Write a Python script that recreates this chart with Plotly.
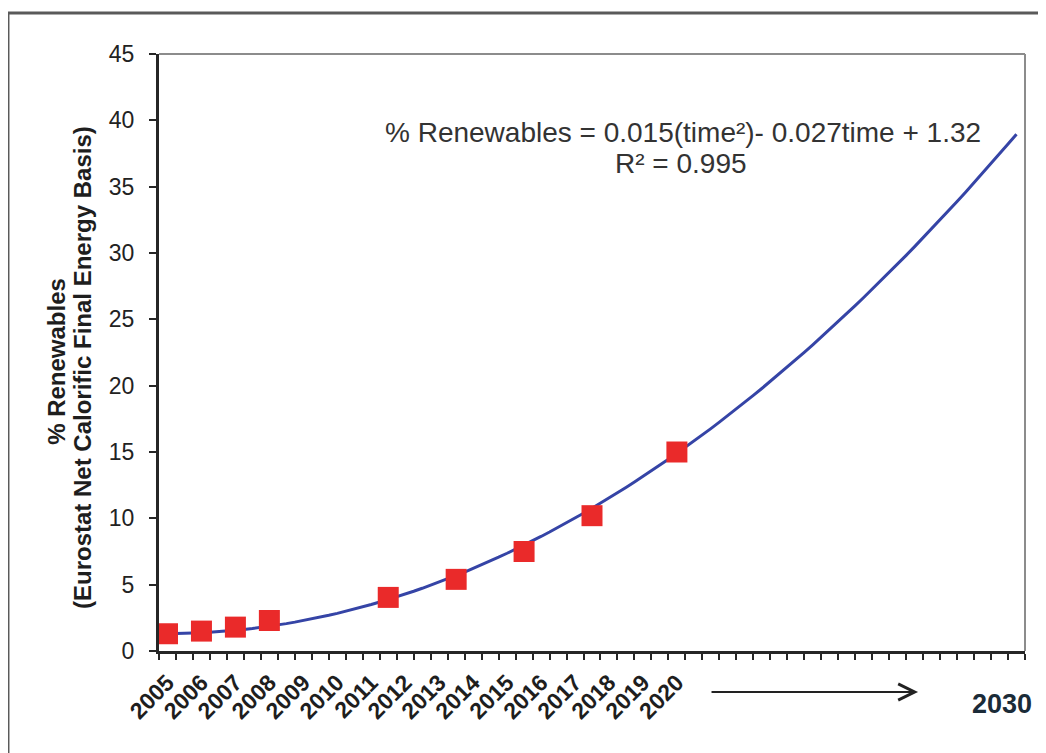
import numpy as np
import plotly.graph_objects as go

# ---- data ----
years = [2005, 2006, 2007, 2008, 2011.5, 2013.5, 2015.5, 2017.5, 2020]
renewables_pct = [1.3, 1.5, 1.8, 2.3, 4.04, 5.4, 7.5, 10.2, 15.0]
tick_years = list(range(2005, 2021))
tick_labels = [str(y) for y in tick_years]
trend_coeffs = [0.015, -0.027, 1.32]          # % = a*time^2 + b*time + c, time in half-years (2005 -> 1)
trend_start, trend_end = 2005, 2030
equation_line1 = "% Renewables = 0.015(time²)- 0.027time + 1.32"
equation_line2 = "R² = 0.995"
ytitle_line1 = "% Renewables"
ytitle_line2 = "(Eurostat Net Calorific Final Energy Basis)"

# trendline evaluated from the equation shown on the chart
trend_years = np.arange(trend_start, trend_end + 0.01, 0.25)
trend_time = 2 * (trend_years - 2005) + 1
trend_vals = np.polyval(trend_coeffs, trend_time)

FONT = "Arial, 'Liberation Sans', sans-serif"

fig = go.Figure()
fig.add_trace(go.Scatter(
    x=trend_years, y=trend_vals, mode="lines",
    line=dict(color="#3544a6", width=3), showlegend=False, hoverinfo="skip"))
fig.add_trace(go.Scatter(
    x=years, y=renewables_pct, mode="markers",
    marker=dict(symbol="square", size=21, color="#ea2a2a", line=dict(width=0)),
    showlegend=False))

fig.update_layout(
    width=1038, height=745,
    margin=dict(l=151, r=21, t=46, b=102),
    paper_bgcolor="white", plot_bgcolor="white",
    font=dict(family=FONT, color="#222222"),
    xaxis=dict(
        range=[2004.75, 2030.25], showgrid=False, zeroline=False,
        showline=True, linecolor="#262626", linewidth=3,
        tickmode="array", tickvals=tick_years, ticktext=tick_labels,
        ticks="", tickangle=-45, ticklabelstandoff=6,
        tickfont=dict(family=FONT, size=23, color="#1e1e1e", weight="bold"),
        minor=dict(tick0=2004.75, dtick=0.5, ticks="outside", ticklen=6,
                   tickwidth=2, tickcolor="#262626"),
    ),
    yaxis=dict(
        range=[0, 45], dtick=5, showgrid=False, zeroline=False,
        showline=True, linecolor="#262626", linewidth=3,
        ticks="outside", ticklen=7, tickwidth=2, tickcolor="#262626",
        ticklabelstandoff=10,
        tickfont=dict(family=FONT, size=23, color="#222222"),
    ),
    shapes=[
        # plot-area top and right border (grey)
        dict(type="line", xref="paper", yref="paper", x0=0, x1=1, y0=1, y1=1,
             line=dict(color="#8c8c8c", width=2)),
        dict(type="line", xref="paper", yref="paper", x0=1, x1=1, y0=0, y1=1,
             line=dict(color="#8c8c8c", width=2)),
        # outer frame of the picture
        dict(type="rect", xref="paper", yref="paper",
             x0=-0.1744, x1=1.04, y0=-0.19, y1=1.0687,
             line=dict(color="#5a5a5a", width=3)),
    ],
    annotations=[
        dict(text=equation_line1, xref="paper", yref="paper", x=0.605, y=0.8677,
             showarrow=False, xanchor="center", yanchor="middle",
             font=dict(family=FONT, size=28, color="#333333")),
        dict(text=equation_line2, xref="paper", yref="paper", x=0.6028, y=0.8174,
             showarrow=False, xanchor="center", yanchor="middle",
             font=dict(family=FONT, size=28, color="#333333")),
        dict(text="<b>" + ytitle_line1 + "</b>",
             xref="paper", yref="paper", x=-0.1178, y=0.486, textangle=-90,
             showarrow=False, xanchor="center", yanchor="middle",
             font=dict(family=FONT, size=24, color="#1e1e1e")),
        dict(text="<b>" + ytitle_line2 + "</b>",
             xref="paper", yref="paper", x=-0.0889, y=0.474, textangle=-90,
             showarrow=False, xanchor="center", yanchor="middle",
             font=dict(family=FONT, size=24, color="#1e1e1e")),
        dict(text="", xref="x", yref="paper", x=2027.1, y=-0.0687,
             ax=-208, ay=0, axref="pixel", ayref="pixel",
             showarrow=True, arrowhead=5, arrowsize=1.6, arrowwidth=2,
             arrowcolor="#222222"),
        dict(text="<b>2030</b>", xref="x", yref="paper", x=2029.57, y=-0.0888,
             showarrow=False, xanchor="center", yanchor="middle",
             font=dict(family=FONT, size=27, color="#1b2b38")),
    ],
)

fig.write_html("out.html")
